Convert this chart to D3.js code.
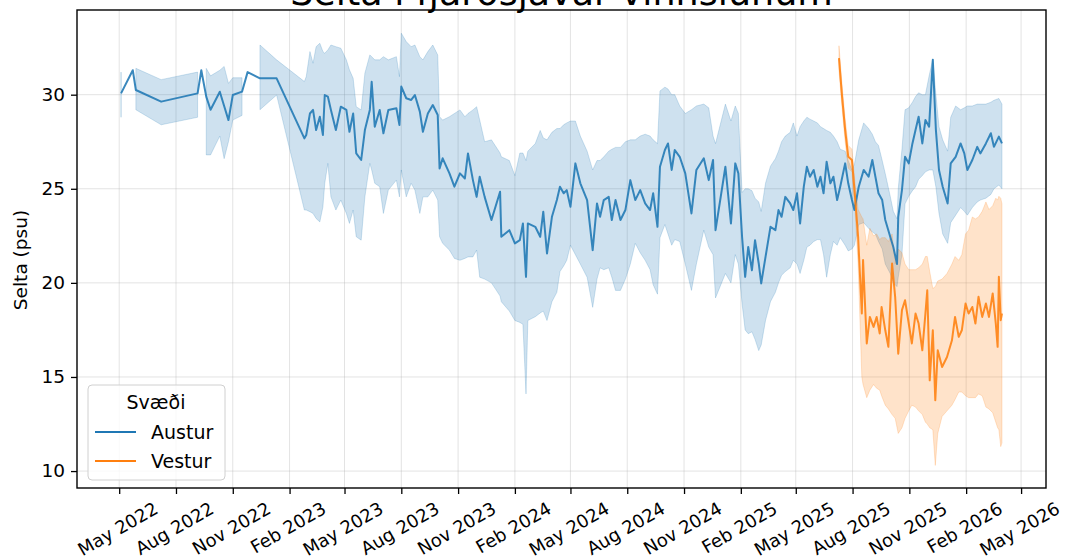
<!DOCTYPE html>
<html>
<head>
<meta charset="utf-8">
<script src="https://cdn.jsdelivr.net/npm/d3@7"></script>
<style>
  body { margin: 0; background: #fff; }
  svg { display: block; font-family: "DejaVu Sans", sans-serif; }
</style>
</head>
<body>
<svg id="chart" width="1068" height="560"></svg>
<script>
// Salinity (psu) per region: daily mean and confidence band
const austurDates = [
  "2022-05-04","2022-05-23","2022-05-28","2022-07-08","2022-09-05","2022-09-11","2022-09-19","2022-09-26",
  "2022-10-11","2022-10-18","2022-10-25","2022-11-01","2022-11-16","2022-11-25","2022-12-15","2023-01-11",
  "2023-02-25","2023-02-28","2023-03-06","2023-03-11","2023-03-16","2023-03-22","2023-03-27","2023-03-30",
  "2023-04-04","2023-04-09","2023-04-17","2023-04-25","2023-05-04","2023-05-09","2023-05-15","2023-05-20",
  "2023-05-28","2023-06-03","2023-06-11","2023-06-14","2023-06-19","2023-06-27","2023-07-03","2023-07-11",
  "2023-07-24","2023-07-29","2023-08-01","2023-08-09","2023-08-17","2023-08-23","2023-08-31","2023-09-05",
  "2023-09-13","2023-09-21","2023-09-29","2023-10-02","2023-10-07","2023-10-18","2023-10-26","2023-11-04",
  "2023-11-12","2023-11-17","2023-11-25","2023-12-01","2023-12-06","2023-12-14","2023-12-25","2024-01-08",
  "2024-01-10","2024-01-23","2024-02-01","2024-02-09","2024-02-14","2024-02-19","2024-02-22","2024-03-05",
  "2024-03-13","2024-03-18","2024-03-24","2024-04-01","2024-04-09","2024-04-14","2024-04-20","2024-04-25",
  "2024-05-01","2024-05-09","2024-05-17","2024-05-28","2024-06-06","2024-06-13","2024-06-18","2024-06-24",
  "2024-07-02","2024-07-07","2024-07-13","2024-07-21","2024-07-29","2024-08-06","2024-08-14","2024-08-22",
  "2024-08-30","2024-09-07","2024-09-12","2024-09-19","2024-09-23","2024-10-01","2024-10-06","2024-10-12",
  "2024-10-17","2024-10-25","2024-11-03","2024-11-13","2024-11-21","2024-12-03","2024-12-11","2024-12-18",
  "2024-12-22","2025-01-07","2025-01-16","2025-01-23","2025-01-28","2025-02-03","2025-02-08","2025-02-13",
  "2025-02-19","2025-02-24","2025-03-02","2025-03-06","2025-03-13","2025-03-21","2025-03-29","2025-04-03",
  "2025-04-08","2025-04-14","2025-04-22","2025-04-27","2025-05-03","2025-05-08","2025-05-14","2025-05-19",
  "2025-05-24","2025-05-30","2025-06-05","2025-06-10","2025-06-15","2025-06-20","2025-06-26","2025-07-01",
  "2025-07-07","2025-07-12","2025-07-20","2025-07-25","2025-07-31","2025-08-04","2025-08-11","2025-08-19",
  "2025-08-27","2025-09-02","2025-09-07","2025-09-12","2025-09-18","2025-09-23","2025-10-01","2025-10-06",
  "2025-10-12","2025-10-14","2025-10-20","2025-10-25","2025-10-31","2025-11-06","2025-11-11","2025-11-16",
  "2025-11-22","2025-11-27","2025-12-03","2025-12-09","2025-12-14","2025-12-19","2025-12-25","2026-01-02",
  "2026-01-07","2026-01-15","2026-01-23","2026-01-29","2026-02-03","2026-02-11","2026-02-19","2026-02-24",
  "2026-03-05","2026-03-13","2026-03-18","2026-03-26","2026-03-31"
];
const austurMean = [
  30.07,31.3,30.25,29.63,30.07,31.3,29.9,29.2,
  30.16,29.4,28.65,29.98,30.16,31.2,30.87,30.87,
  27.68,27.86,29.0,29.19,28.12,28.83,27.86,29.98,
  29.9,29.19,28.12,29.36,29.19,28.03,29.0,26.88,
  26.53,28.12,29.19,30.69,28.3,29.19,27.95,29.19,
  29.28,28.39,30.43,29.81,29.72,29.98,29.1,28.03,
  29.0,29.45,28.92,26.08,26.62,25.82,25.11,25.82,
  25.55,26.88,25.46,24.57,25.64,24.57,23.34,24.84,
  22.45,22.8,22.1,22.27,23.16,20.32,23.16,22.98,
  22.45,23.78,21.56,23.51,24.4,25.11,24.76,24.93,
  24.04,26.35,25.29,24.4,21.74,24.22,23.51,24.4,
  24.57,23.34,24.4,23.34,23.87,25.46,24.4,24.93,
  24.22,23.87,24.76,22.98,26.17,27.06,27.41,26.0,
  27.06,26.7,25.82,23.69,26.0,26.62,25.46,26.53,
  22.8,26.17,23.16,26.35,25.82,22.45,20.32,21.91,
  20.67,22.27,21.03,19.97,21.38,22.98,22.8,23.87,
  23.51,24.57,24.22,23.87,24.76,23.16,25.11,26.17,
  25.64,26.0,25.11,25.64,24.76,26.44,25.29,25.64,
  24.4,25.11,26.35,25.29,24.4,23.87,25.11,26.0,
  25.64,26.53,25.64,24.76,24.4,23.34,22.45,21.91,
  21.0,23.51,24.93,26.7,26.35,27.41,28.12,28.83,
  27.41,28.65,28.3,31.85,28.12,26.0,25.11,24.22,
  26.35,26.7,27.41,26.88,26.0,26.53,27.23,26.88,
  27.41,27.95,27.23,27.77,27.41
];
const austurLow = [
  28.8,null,29.2,28.4,28.8,null,26.8,26.8,
  27.8,26.6,27.5,28.65,28.9,null,29.2,29.98,
  23.87,23.87,23.78,23.69,23.42,23.24,24.04,25.29,
  26.35,24.57,23.87,24.4,23.69,23.16,23.87,22.45,
  22.27,24.57,26.35,26.0,25.29,25.11,23.69,24.93,
  25.46,24.57,26.0,24.57,25.29,24.93,23.69,24.57,
  24.57,24.93,24.4,22.45,22.1,21.74,21.3,21.2,
  21.3,21.38,21.38,21.74,20.3,20.2,20.0,19.3,
  19.0,18.5,18.0,17.9,17.8,14.1,18.0,18.2,
  18.4,18.5,18.0,19.0,19.5,20.6,20.9,21.2,
  22.0,21.5,21.0,20.3,18.7,20.2,20.8,20.7,
  20.8,20.3,19.6,19.6,20.2,21.0,22.1,21.6,
  21.2,20.7,19.9,19.4,22.4,23.1,22.6,22.0,
  22.3,22.2,21.0,19.6,21.0,22.8,21.9,21.5,
  19.2,20.5,20.0,21.5,21.0,18.9,17.5,17.3,
  17.4,17.0,16.4,16.7,18.0,19.0,19.5,20.0,
  20.4,20.6,20.8,21.2,21.0,20.5,21.2,21.9,
  22.0,22.2,22.3,22.3,21.5,20.3,21.5,22.2,
  22.0,22.4,22.0,21.7,21.8,22.0,23.1,23.2,
  22.9,22.7,22.6,22.2,21.8,21.0,20.5,20.0,
  19.8,20.3,21.5,24.2,24.6,24.9,25.1,25.5,
  25.7,25.9,26.0,26.0,25.1,23.7,22.6,22.1,
  23.2,23.6,24.0,23.8,23.6,24.0,24.3,24.4,
  24.5,24.7,25.0,25.2,25.0
];
const austurHigh = [
  31.2,null,31.4,30.8,31.2,null,31.4,31.0,
  31.3,31.5,30.6,30.9,30.9,null,32.64,31.85,
  30.7,30.96,32.29,31.67,32.55,32.73,32.29,32.2,
  32.38,32.64,32.55,32.47,31.85,31.32,30.87,29.36,
  29.19,31.14,32.11,32.02,31.85,31.85,32.02,31.85,
  32.02,30.96,33.27,32.82,32.55,32.64,32.02,31.85,
  32.29,32.64,32.11,28.83,28.65,28.83,29.0,29.19,
  28.83,29.0,29.19,29.36,28.65,27.5,27.6,26.9,
  26.7,26.5,25.7,26.9,26.9,26.5,27.0,27.4,
  28.1,27.7,27.6,28.0,28.2,28.2,28.4,28.5,
  28.6,28.6,27.8,27.0,26.0,26.5,26.5,26.7,
  27.0,27.1,27.2,27.2,27.5,27.6,27.6,27.8,
  27.9,27.8,27.6,27.4,30.2,30.4,30.3,30.0,
  30.0,29.4,29.0,29.2,29.4,29.5,29.3,27.8,
  27.4,29.5,28.6,29.4,29.0,24.8,25.0,25.0,
  24.9,24.5,24.3,23.8,25.3,26.2,26.6,27.0,
  27.5,27.8,28.0,28.5,27.8,28.3,28.6,28.8,
  28.7,28.6,28.5,28.3,28.2,28.1,28.0,27.8,
  27.5,27.1,27.0,26.5,26.0,26.3,27.6,28.5,
  28.2,27.9,27.5,27.3,26.5,25.8,24.6,23.8,
  23.4,25.0,27.1,29.2,29.3,29.6,29.9,30.1,
  30.0,30.0,31.0,31.9,30.0,28.3,27.6,27.0,
  28.8,29.4,29.2,29.3,29.4,29.4,29.5,29.5,
  29.5,29.6,29.7,29.8,29.5
];

const vesturDates = [
  "2025-07-10","2025-07-15","2025-07-20","2025-07-25","2025-07-31","2025-08-05","2025-08-10","2025-08-16",
  "2025-08-18","2025-08-24","2025-08-29","2025-09-04","2025-09-09","2025-09-14","2025-09-17","2025-09-23",
  "2025-09-28","2025-10-04","2025-10-09","2025-10-14","2025-10-20","2025-10-25","2025-10-31","2025-11-05",
  "2025-11-11","2025-11-16","2025-11-22","2025-11-27","2025-11-30","2025-12-04","2025-12-09","2025-12-13",
  "2025-12-17","2025-12-24","2026-01-01","2026-01-09","2026-01-14","2026-01-20","2026-01-25","2026-01-31",
  "2026-02-05","2026-02-11","2026-02-16","2026-02-21","2026-02-27","2026-03-05","2026-03-10","2026-03-16",
  "2026-03-21","2026-03-24","2026-03-26","2026-03-29","2026-03-31"
];
const vesturMean = [
  31.94,29.9,28.12,26.7,26.53,24.57,22.45,18.37,
  21.21,16.78,18.19,17.66,18.19,17.31,18.72,17.48,
  16.6,21.03,19.26,16.24,18.55,19.08,17.84,16.78,
  18.37,17.84,16.42,18.37,19.61,14.82,17.48,13.76,
  16.42,15.53,16.06,16.95,18.19,17.13,17.48,18.9,
  18.37,18.72,17.84,19.26,18.19,18.9,18.19,19.44,
  17.84,16.6,20.32,18.02,18.37
];
const vesturLow = [
  31.3,29.3,27.5,26.1,25.9,23.8,21.0,15.0,
  14.6,13.9,14.3,14.6,14.4,14.3,14.0,13.5,
  13.3,13.0,12.8,12.0,12.3,12.8,13.2,13.5,
  13.4,13.2,13.0,12.6,12.5,12.3,12.2,10.3,
  12.0,12.9,13.2,13.5,13.8,14.2,14.2,14.0,
  13.9,13.9,13.9,14.1,14.0,13.4,13.3,13.1,
  12.6,12.3,12.2,11.3,11.5
];
const vesturHigh = [
  32.6,30.5,28.7,27.3,27.1,25.3,23.9,23.5,
  23.4,22.0,22.9,22.5,22.6,22.3,22.4,22.4,
  22.2,22.6,21.0,21.8,21.6,21.0,20.7,20.7,
  20.7,20.8,21.0,21.4,21.4,20.6,19.7,19.8,
  20.1,20.2,20.5,21.0,21.4,21.2,21.5,22.6,
  22.8,23.5,23.4,23.5,23.8,24.3,23.9,24.1,
  24.5,24.4,24.6,24.5,24.2
];

const yTicks = [10, 15, 20, 25, 30];
const xTickDates = [
  "2022-05-01","2022-08-01","2022-11-01","2023-02-01","2023-05-01","2023-08-01","2023-11-01",
  "2024-02-01","2024-05-01","2024-08-01","2024-11-01","2025-02-01","2025-05-01","2025-08-01",
  "2025-11-01","2026-02-01","2026-05-01"
];
const seriesNames = ["Austur", "Vestur"];
const seriesColors = ["#1f77b4", "#ff7f0e"];

const parse = d3.timeParse("%Y-%m-%d");
function rows(dates, mean, lo, hi) {
  return dates.map((d, i) => ({ date: parse(d), mean: mean[i], lo: lo[i], hi: hi[i] }));
}
const series = [
  rows(austurDates, austurMean, austurLow, austurHigh),
  rows(vesturDates, vesturMean, vesturLow, vesturHigh)
];

const svg = d3.select("#chart");
const plot = { left: 77, right: 1046, top: 10, bottom: 488 };

// x domain: data extent with 5% padding on each side
const allDates = series.flat().map(d => d.date);
const [dMin, dMax] = d3.extent(allDates);
const pad = (dMax - dMin) * 0.05;
const x = d3.scaleTime()
  .domain([new Date(+dMin - pad), new Date(+dMax + pad)])
  .range([plot.left, plot.right]);
const y = d3.scaleLinear().domain([9.1, 34.5]).range([plot.bottom, plot.top]);

const FS = 18.5;
const XFS = 18;
const LFS = 19;

// grid
const grid = svg.append("g");
xTickDates.forEach(s => {
  const xv = x(parse(s));
  grid.append("line").attr("x1", xv).attr("x2", xv).attr("y1", plot.top).attr("y2", plot.bottom)
    .attr("stroke", "#b0b0b0").attr("stroke-opacity", 0.35).attr("stroke-width", 1);
});
yTicks.forEach(v => {
  grid.append("line").attr("x1", plot.left).attr("x2", plot.right).attr("y1", y(v)).attr("y2", y(v))
    .attr("stroke", "#b0b0b0").attr("stroke-opacity", 0.35).attr("stroke-width", 1);
});

// confidence bands
const area = d3.area()
  .defined(d => d.lo != null && d.hi != null)
  .x(d => x(d.date)).y0(d => y(d.lo)).y1(d => y(d.hi));
const line = d3.line().x(d => x(d.date)).y(d => y(d.mean));

series.forEach((s, i) => {
  svg.append("path").datum(s).attr("d", area)
    .attr("fill", seriesColors[i]).attr("fill-opacity", 0.22)
    .attr("stroke", seriesColors[i]).attr("stroke-opacity", 0.2).attr("stroke-width", 1);
});
series.forEach((s, i) => {
  svg.append("path").datum(s).attr("d", line)
    .attr("fill", "none").attr("stroke", seriesColors[i]).attr("stroke-width", 2)
    .attr("stroke-linejoin", "round").attr("stroke-opacity", 0.88);
});

// frame
svg.append("rect").attr("x", plot.left).attr("y", plot.top)
  .attr("width", plot.right - plot.left).attr("height", plot.bottom - plot.top)
  .attr("fill", "none").attr("stroke", "#000").attr("stroke-width", 1.4);

// y axis
const yAxis = svg.append("g").attr("transform", `translate(${plot.left},0)`)
  .call(d3.axisLeft(y).tickValues(yTicks).tickSize(6).tickPadding(6).tickFormat(d3.format("d")));
yAxis.select(".domain").remove();
yAxis.selectAll("line").attr("stroke", "#000").attr("stroke-width", 1.3);
yAxis.selectAll("text").attr("font-size", FS).attr("font-family", "DejaVu Sans").attr("fill", "#000");

// x axis with rotated labels centred on their ticks
const xAxis = svg.append("g").attr("transform", `translate(0,${plot.bottom})`)
  .call(d3.axisBottom(x).tickValues(xTickDates.map(parse)).tickSize(6).tickFormat(d3.timeFormat("%b %Y")));
xAxis.select(".domain").remove();
xAxis.selectAll("line").attr("stroke", "#000").attr("stroke-width", 1.3);
xAxis.selectAll("text")
  .attr("font-size", XFS).attr("font-family", "DejaVu Sans").attr("fill", "#000")
  .attr("dy", null).attr("y", 0)
  .each(function () {
    const t = d3.select(this);
    const w = this.getComputedTextLength();
    const h = XFS * 1.1;
    const a = 30 * Math.PI / 180;
    const H = w * Math.sin(a) + h * Math.cos(a);
    const cy = 6 + 4 + H / 2;
    t.attr("text-anchor", "middle").attr("dominant-baseline", "central")
      .attr("transform", `translate(-2,${cy}) rotate(-30)`);
  });

// y label
svg.append("text")
  .attr("transform", `translate(20,${(plot.top + plot.bottom) / 2 + 11}) rotate(-90)`)
  .attr("text-anchor", "middle").attr("dominant-baseline", "central")
  .attr("font-size", FS).text("Selta (psu)");

// title
svg.append("text").attr("x", (plot.left + plot.right) / 2).attr("y", 5)
  .attr("text-anchor", "middle").attr("font-size", 36.5)
  .text("Selta í fjarðsjávar vinnslunum");

// legend
const lg = svg.append("g");
lg.append("rect").attr("x", 88).attr("y", 385).attr("width", 137).attr("height", 95)
  .attr("rx", 4).attr("fill", "#fff").attr("fill-opacity", 0.8)
  .attr("stroke", "#d0d0d0").attr("stroke-width", 1);
lg.append("text").attr("x", 156).attr("y", 409).attr("text-anchor", "middle")
  .attr("font-size", LFS).text("Svæði");
seriesNames.forEach((n, i) => {
  const yy = 432 + i * 29;
  lg.append("line").attr("x1", 95).attr("x2", 136).attr("y1", yy).attr("y2", yy)
    .attr("stroke", seriesColors[i]).attr("stroke-width", 2);
  lg.append("text").attr("x", 151).attr("y", yy + 7).attr("font-size", LFS).text(n);
});
</script>
</body>
</html>
